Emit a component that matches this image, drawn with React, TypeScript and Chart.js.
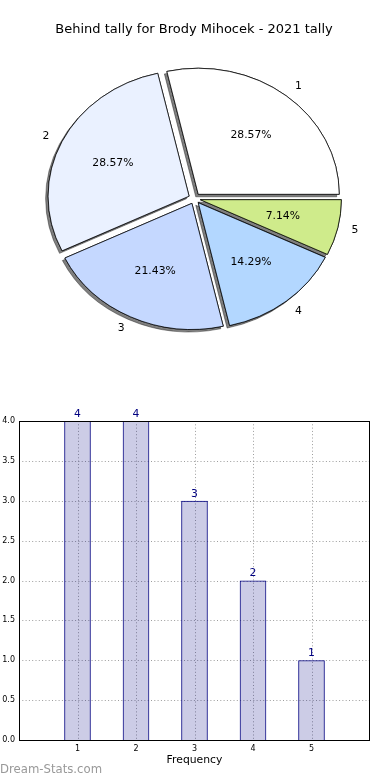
import React, { useEffect, useRef } from "react";
import { Chart, registerables } from "chart.js";

Chart.register(...registerables);
Chart.defaults.font.family = "'DejaVu Sans', sans-serif";

const TITLE = "Behind tally for Brody Mihocek - 2021 tally";
const CATEGORIES = ["1", "2", "3", "4", "5"];
const COUNTS = [4, 4, 3, 2, 1];
const PIE_COLORS = ["#ffffff", "#eaf1ff", "#c5d8ff", "#b3d7ff", "#cfeb8b"];
const Y_MIN = 0;
const Y_MAX = 4;
const Y_STEP = 0.5;
const X_MIN = 0;
const X_MAX = 6;
const X_LABEL = "Frequency";
const WATERMARK = "Dream-Stats.com";

const SY = 0.894;
const EXPLODE = 6;
const RADIUS = 141;

function PieChart() {
  const ref = useRef<HTMLCanvasElement>(null);
  useEffect(() => {
    if (!ref.current) return;
    const order = CATEGORIES.map((_, i) => i).reverse();
    const total = COUNTS.reduce((a, b) => a + b, 0);

    const center = (chart: any) => {
      const { left, right, top, bottom } = chart.chartArea;
      return { cx: (left + right) / 2, cy: (top + bottom) / 2 };
    };

    const plugin = {
      id: "pieFx",
      afterDatasetsUpdate(chart: any) {
        const meta = chart.getDatasetMeta(0);
        meta.data.forEach((arc: any) => {
          const mid = (arc.startAngle + arc.endAngle) / 2;
          arc.x += Math.cos(mid) * EXPLODE;
          arc.y += Math.sin(mid) * EXPLODE;
        });
      },
      beforeDatasetsDraw(chart: any) {
        const ctx = chart.ctx;
        const { cx, cy } = center(chart);
        ctx.save();
        ctx.translate(cx, cy);
        ctx.scale(1, SY);
        ctx.translate(-cx, -cy);
        const meta = chart.getDatasetMeta(0);
        ctx.save();
        ctx.shadowColor = "rgba(0,0,0,0.5)";
        ctx.shadowOffsetX = -2.5;
        ctx.shadowOffsetY = 2.5;
        ctx.shadowBlur = 0;
        meta.data.forEach((a: any) => a.draw(ctx));
        ctx.restore();
      },
      afterDatasetsDraw(chart: any) {
        chart.ctx.restore();
      },
      afterDraw(chart: any) {
        const ctx = chart.ctx;
        const { cy } = center(chart);
        ctx.save();
        ctx.fillStyle = "#000";
        ctx.font = "13px 'DejaVu Sans'";
        ctx.textAlign = "center";
        ctx.textBaseline = "middle";
        ctx.fillText(TITLE, chart.width / 2 - 1, 30);
        const meta = chart.getDatasetMeta(0);
        ctx.font = "10.8px 'DejaVu Sans'";
        meta.data.forEach((arc: any, i: number) => {
          const idx = order[i];
          const mid = (arc.startAngle + arc.endAngle) / 2;
          const r = arc.outerRadius;
          const px = (k: number) => arc.x + Math.cos(mid) * r * k;
          const py = (k: number) => cy + (arc.y + Math.sin(mid) * r * k - cy) * SY;
          ctx.textAlign = "center";
          ctx.fillText(((COUNTS[idx] / total) * 100).toFixed(2) + "%", px(0.6), py(0.6));
          ctx.textAlign = Math.cos(mid) > 0 ? "left" : "right";
          ctx.fillText(CATEGORIES[idx], px(1.1), py(1.1));
        });
        ctx.restore();
      },
    };

    const chart = new Chart(ref.current, {
      type: "pie",
      data: {
        labels: order.map((i) => CATEGORIES[i]),
        datasets: [
          {
            data: order.map((i) => COUNTS[i]),
            backgroundColor: order.map((i) => PIE_COLORS[i]),
            borderColor: "#000",
            borderWidth: 0.8,
            clip: false,
            offset: 0,
            hoverOffset: 0,
            rotation: 90,
            radius: RADIUS,
          } as any,
        ],
      },
      options: {
        animation: false,
        responsive: false,
        events: [],
        rotation: 90,
        radius: RADIUS,
        layout: { padding: { left: 0, right: 1, top: 54, bottom: 27 } },
        plugins: { legend: { display: false }, tooltip: { enabled: false } },
      } as any,
      plugins: [plugin],
    });
    return () => chart.destroy();
  }, []);
  return (
    <canvas
      ref={ref}
      width={390}
      height={370}
      style={{ position: "absolute", left: 0, top: 0, width: 390, height: 370 }}
    />
  );
}

function BarChart() {
  const ref = useRef<HTMLCanvasElement>(null);
  useEffect(() => {
    if (!ref.current) return;
    const plugin = {
      id: "barFx",
      beforeDatasetsDraw(chart: any) {
        // dotted grid lines at the scales' tick positions
        const ctx = chart.ctx;
        const { left, right, top, bottom } = chart.chartArea;
        const xs = chart.scales.x;
        const ys = chart.scales.y;
        ctx.save();
        ctx.strokeStyle = "rgba(140,140,140,0.85)";
        ctx.lineWidth = 1;
        ctx.setLineDash([1, 2.3]);
        xs.ticks.forEach((t: any) => {
          if (t.value <= X_MIN || t.value >= X_MAX) return;
          const x = Math.round(xs.getPixelForValue(t.value)) + 0.5;
          ctx.beginPath();
          ctx.moveTo(x, top);
          ctx.lineTo(x, bottom);
          ctx.stroke();
        });
        ys.ticks.forEach((t: any) => {
          if (t.value <= Y_MIN || t.value >= Y_MAX) return;
          const y = Math.round(ys.getPixelForValue(t.value)) + 0.5;
          ctx.beginPath();
          ctx.moveTo(left, y);
          ctx.lineTo(right, y);
          ctx.stroke();
        });
        ctx.restore();
      },
      afterDatasetsDraw(chart: any) {
        const ctx = chart.ctx;
        const meta = chart.getDatasetMeta(0);
        ctx.save();
        ctx.fillStyle = "#000080";
        ctx.font = "10.8px 'DejaVu Sans'";
        ctx.textAlign = "center";
        ctx.textBaseline = "bottom";
        meta.data.forEach((bar: any, i: number) => {
          ctx.fillText(String(COUNTS[i]), bar.x, bar.y - 1.5);
        });
        ctx.restore();
      },
      afterDraw(chart: any) {
        const ctx = chart.ctx;
        const { left, right, top, bottom } = chart.chartArea;
        ctx.save();
        ctx.strokeStyle = "#000";
        ctx.lineWidth = 1;
        ctx.strokeRect(
          Math.round(left) + 0.5,
          Math.round(top) + 0.5,
          Math.round(right - left) - 1,
          Math.round(bottom - top)
        );
        ctx.fillStyle = "#999";
        ctx.font = "11.7px 'DejaVu Sans'";
        ctx.textAlign = "left";
        ctx.textBaseline = "middle";
        ctx.fillText(WATERMARK, 0, 400);
        ctx.restore();
      },
    };
    const chart = new Chart(ref.current, {
      type: "bar",
      data: {
        datasets: [
          {
            data: CATEGORIES.map((c, i) => ({ x: Number(c), y: COUNTS[i] })),
            backgroundColor: "rgba(0,0,128,0.2)",
            borderColor: "#000080",
            borderWidth: 1,
            barPercentage: 0.455,
            categoryPercentage: 1,
          },
        ],
      },
      options: {
        animation: false,
        responsive: false,
        events: [],
        layout: { padding: { top: 51, right: 20, bottom: 0, left: 0 } },
        plugins: { legend: { display: false }, tooltip: { enabled: false } },
        scales: {
          x: {
            type: "linear",
            min: X_MIN,
            max: X_MAX,
            offset: false,
            ticks: {
              stepSize: 1,
              autoSkip: false,
              maxRotation: 0,
              padding: 4,
              color: "#000",
              font: { size: 8 },
              callback: (v: any) => (v > X_MIN && v < X_MAX ? String(v) : ""),
            },
            grid: { display: false, drawTicks: false, offset: false },
            border: { display: false },
            title: {
              display: true,
              text: X_LABEL,
              color: "#000",
              font: { size: 10.8 },
              padding: { top: 0, bottom: 13 },
            },
            afterFit: (s: any) => {
              s.height = 40;
            },
          },
          y: {
            min: Y_MIN,
            max: Y_MAX,
            ticks: {
              stepSize: Y_STEP,
              padding: 4,
              color: "#000",
              font: { size: 8 },
              callback: (v: any) => Number(v).toFixed(1),
            },
            grid: { display: false, drawTicks: false },
            border: { display: false },
            afterFit: (s: any) => {
              s.width = 19;
            },
          },
        },
      } as any,
      plugins: [plugin],
    });
    return () => chart.destroy();
  }, []);
  return (
    <canvas
      ref={ref}
      width={390}
      height={410}
      style={{ position: "absolute", left: 0, top: 370, width: 390, height: 410 }}
    />
  );
}

export default function App() {
  return (
    <div
      style={{
        position: "fixed",
        left: 0,
        top: 0,
        width: 390,
        height: 780,
        background: "#fff",
        overflow: "hidden",
      }}
    >
      <PieChart />
      <BarChart />
    </div>
  );
}
